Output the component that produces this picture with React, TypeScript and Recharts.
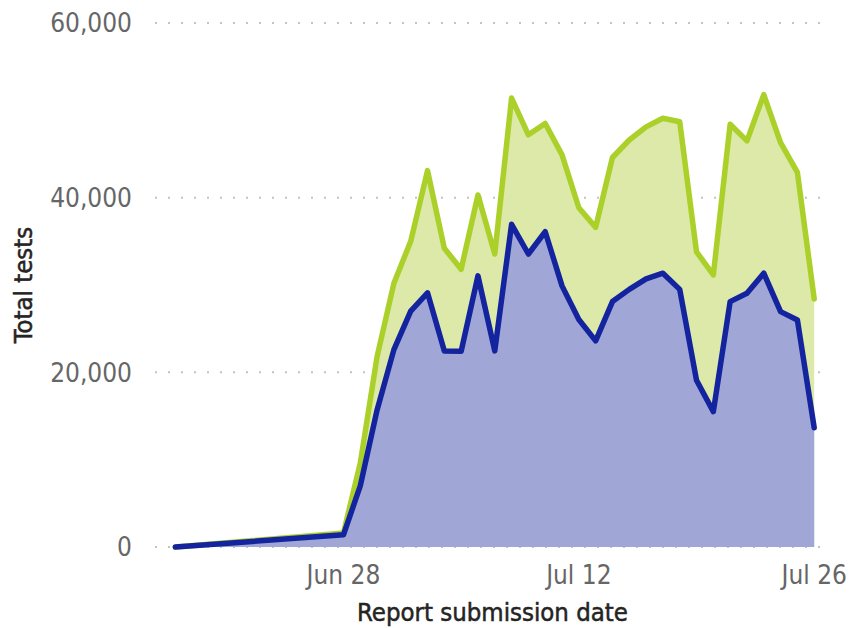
import { AreaChart, Area, XAxis, YAxis, CartesianGrid, Label } from 'recharts';

// day of the reporting period: 18 = Jun 18, 31 = Jul 1, 56 = Jul 26
const days = [18, 28, 29, 30, 31, 32, 33, 34, 35, 36, 37, 38, 39, 40, 41, 42, 43, 44, 45, 46, 47, 48, 49, 50, 51, 52, 53, 54, 55, 56];
const totalTests = [0, 1600, 9600, 21800, 30200, 35000, 43100, 34200, 31800, 40300, 33550, 51400, 47200, 48500, 44900, 38850, 36600, 44600, 46600, 48100, 49100, 48700, 33800, 31150, 48400, 46500, 51800, 46300, 42900, 28400];
const subsetTests = [0, 1400, 7000, 15700, 22600, 27000, 29100, 22450, 22400, 31050, 22450, 36950, 33550, 36100, 29900, 26050, 23600, 28100, 29500, 30700, 31350, 29500, 19100, 15500, 28100, 29050, 31350, 26950, 26000, 13650];
const xTicks = [28, 42, 56];
const yTicks = [0, 20000, 40000, 60000];

const data = days.map((d, i) => ({ day: d, total: totalTests[i], subset: subsetTests[i] }));

const fmtDay = (d: number) => (d <= 30 ? `Jun ${d}` : `Jul ${d - 30}`);
const fmtNum = (v: number) => v.toLocaleString('en-US');

const tickStyle = { fontFamily: 'DejaVu Sans Condensed', fontSize: 26, fill: '#666666' };
// a hairline stroke thickens the regular face towards a medium weight
const titleStyle = { fontFamily: 'DejaVu Sans Condensed', fontSize: 25.5, fill: '#252423', stroke: '#252423', strokeWidth: 0.5 };

export default function App() {
    return (
        <div style={{ position: 'absolute', left: 0, top: 0, width: 852, height: 628, background: '#fff' }}>
            <AreaChart width={852} height={628} data={data} margin={{ top: 23, right: 22, bottom: 0, left: 0 }}>
                <CartesianGrid vertical={false} stroke="#c4c4c4" strokeWidth={2} strokeDasharray="2 11" />
                <XAxis
                    dataKey="day"
                    type="number"
                    domain={[16.79, 56.94]}
                    ticks={xTicks}
                    tickFormatter={fmtDay}
                    axisLine={false}
                    tickLine={false}
                    tickSize={0}
                    tickMargin={19}
                    height={81}
                    tick={tickStyle}
                >
                    <Label value="Report submission date" position="insideBottom" offset={7} style={titleStyle} />
                </XAxis>
                <YAxis
                    type="number"
                    domain={[0, 60000]}
                    ticks={yTicks}
                    tickFormatter={fmtNum}
                    axisLine={false}
                    tickLine={false}
                    tickSize={0}
                    tickMargin={23}
                    width={155}
                    tick={tickStyle}
                >
                    <Label
                        content={({ viewBox }: any) => {
                            const cy = viewBox.y + viewBox.height / 2;
                            return (
                                <text
                                    x={23}
                                    y={cy}
                                    transform={`rotate(-90 23 ${cy})`}
                                    textAnchor="middle"
                                    dominantBaseline="central"
                                    style={titleStyle}
                                >
                                    Total tests
                                </text>
                            );
                        }}
                    />
                </YAxis>
                <Area
                    type="linear"
                    dataKey="total"
                    stroke="#acd02a"
                    strokeWidth={5.5}
                    fill="#dce9a9"
                    fillOpacity={1}
                    strokeLinejoin="round"
                    strokeLinecap="round"
                    dot={false}
                    activeDot={false}
                    isAnimationActive={false}
                />
                <Area
                    type="linear"
                    dataKey="subset"
                    stroke="#14249e"
                    strokeWidth={5.5}
                    fill="#a0a7d6"
                    fillOpacity={1}
                    strokeLinejoin="round"
                    strokeLinecap="round"
                    dot={false}
                    activeDot={false}
                    isAnimationActive={false}
                />
            </AreaChart>
        </div>
    );
}
